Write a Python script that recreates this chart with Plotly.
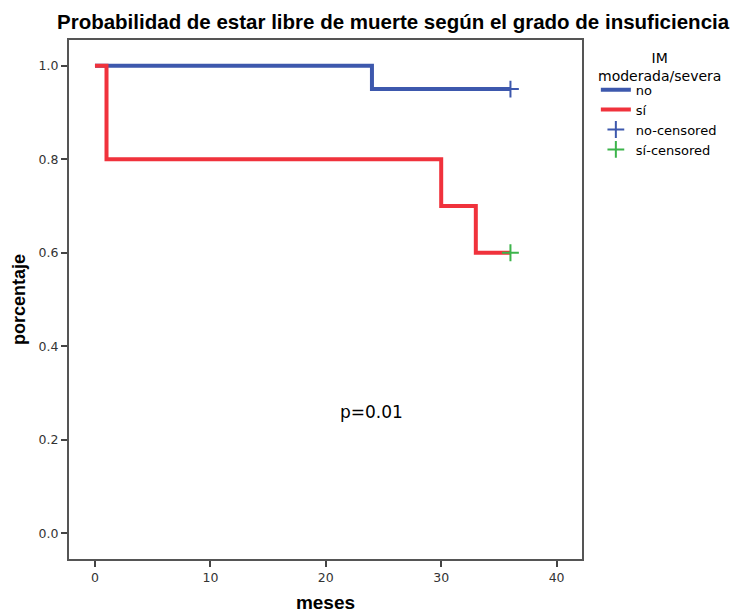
import plotly.graph_objects as go

# Data
no_x = [0, 24, 36]
no_y = [1.0, 0.95, 0.95]
si_x = [0, 1, 30, 33, 36]
si_y = [1.0, 0.8, 0.7, 0.6, 0.6]
no_cens_x = [36]
no_cens_y = [0.95]
si_cens_x = [36]
si_cens_y = [0.6]
x_ticks = [0, 10, 20, 30, 40]
y_ticks = [0.0, 0.2, 0.4, 0.6, 0.8, 1.0]

BLUE = "#3D58AD"
RED = "#F0323C"
GREEN = "#3CB44B"
bold_fam = "Liberation Sans, Arial, sans-serif"
txt_fam = "DejaVu Sans, sans-serif"

fig = go.Figure()
fig.add_trace(go.Scatter(x=no_x, y=no_y, mode="lines", line=dict(shape="hv", color=BLUE, width=4), name="no"))
fig.add_trace(go.Scatter(x=si_x, y=si_y, mode="lines", line=dict(shape="hv", color=RED, width=4), name="sí"))
fig.add_trace(go.Scatter(x=no_cens_x, y=no_cens_y, mode="markers",
                         marker=dict(symbol="cross-thin", size=12, line=dict(color=BLUE, width=2)),
                         name="no-censored"))
fig.add_trace(go.Scatter(x=si_cens_x, y=si_cens_y, mode="markers",
                         marker=dict(symbol="cross-thin", size=12, line=dict(color=GREEN, width=2)),
                         name="sí-censored"))

fig.add_annotation(x=24, y=0.26, text="p=0.01", showarrow=False,
                   font=dict(size=17, color="#000", family=txt_fam))

# legend title (centered, two lines)
fig.add_annotation(xref="paper", yref="paper", x=1.152, y=0.985, xanchor="center", yanchor="top",
                   text="IM<br>moderada/severa", align="center", showarrow=False,
                   font=dict(size=14, color="#000", family=txt_fam))

axis_common = dict(showline=True, linecolor="#555", linewidth=2, mirror=True, ticks="outside",
                   ticklen=6, tickwidth=2, tickcolor="#444", showgrid=False, zeroline=False,
                   automargin=False,
                   tickfont=dict(size=12.5, color="#333", family=txt_fam))

fig.update_layout(
    width=732, height=614,
    margin=dict(l=69, r=150, t=40, b=55, autoexpand=False),
    paper_bgcolor="white", plot_bgcolor="white",
    title=dict(text="<b>Probabilidad de estar libre de muerte según el grado de insuficiencia</b>",
               x=0.537, xanchor="center", y=0.964, yanchor="middle",
               font=dict(size=20.5, color="#000", family=bold_fam)),
    xaxis=dict(range=[-2.25, 42.2], tickvals=x_ticks, ticktext=[str(v) for v in x_ticks],
               title=dict(text="<b>meses</b>", font=dict(size=19, color="#000", family=bold_fam), standoff=12),
               **axis_common),
    yaxis=dict(range=[-0.055, 1.055], tickvals=y_ticks, ticktext=[f"{v:.1f}" for v in y_ticks],
               title=dict(text="<b>porcentaje</b>", font=dict(size=18, color="#000", family=bold_fam), standoff=8),
               **axis_common),
    legend=dict(x=1.027, y=0.933, xanchor="left", yanchor="top",
                font=dict(size=13, color="#000", family=txt_fam),
                tracegroupgap=0, itemwidth=30, bgcolor="rgba(0,0,0,0)"),
)

fig.write_html("out.html", config={"displayModeBar": False},
               post_script="document.body.style.margin='0';document.body.style.overflow='hidden';")
